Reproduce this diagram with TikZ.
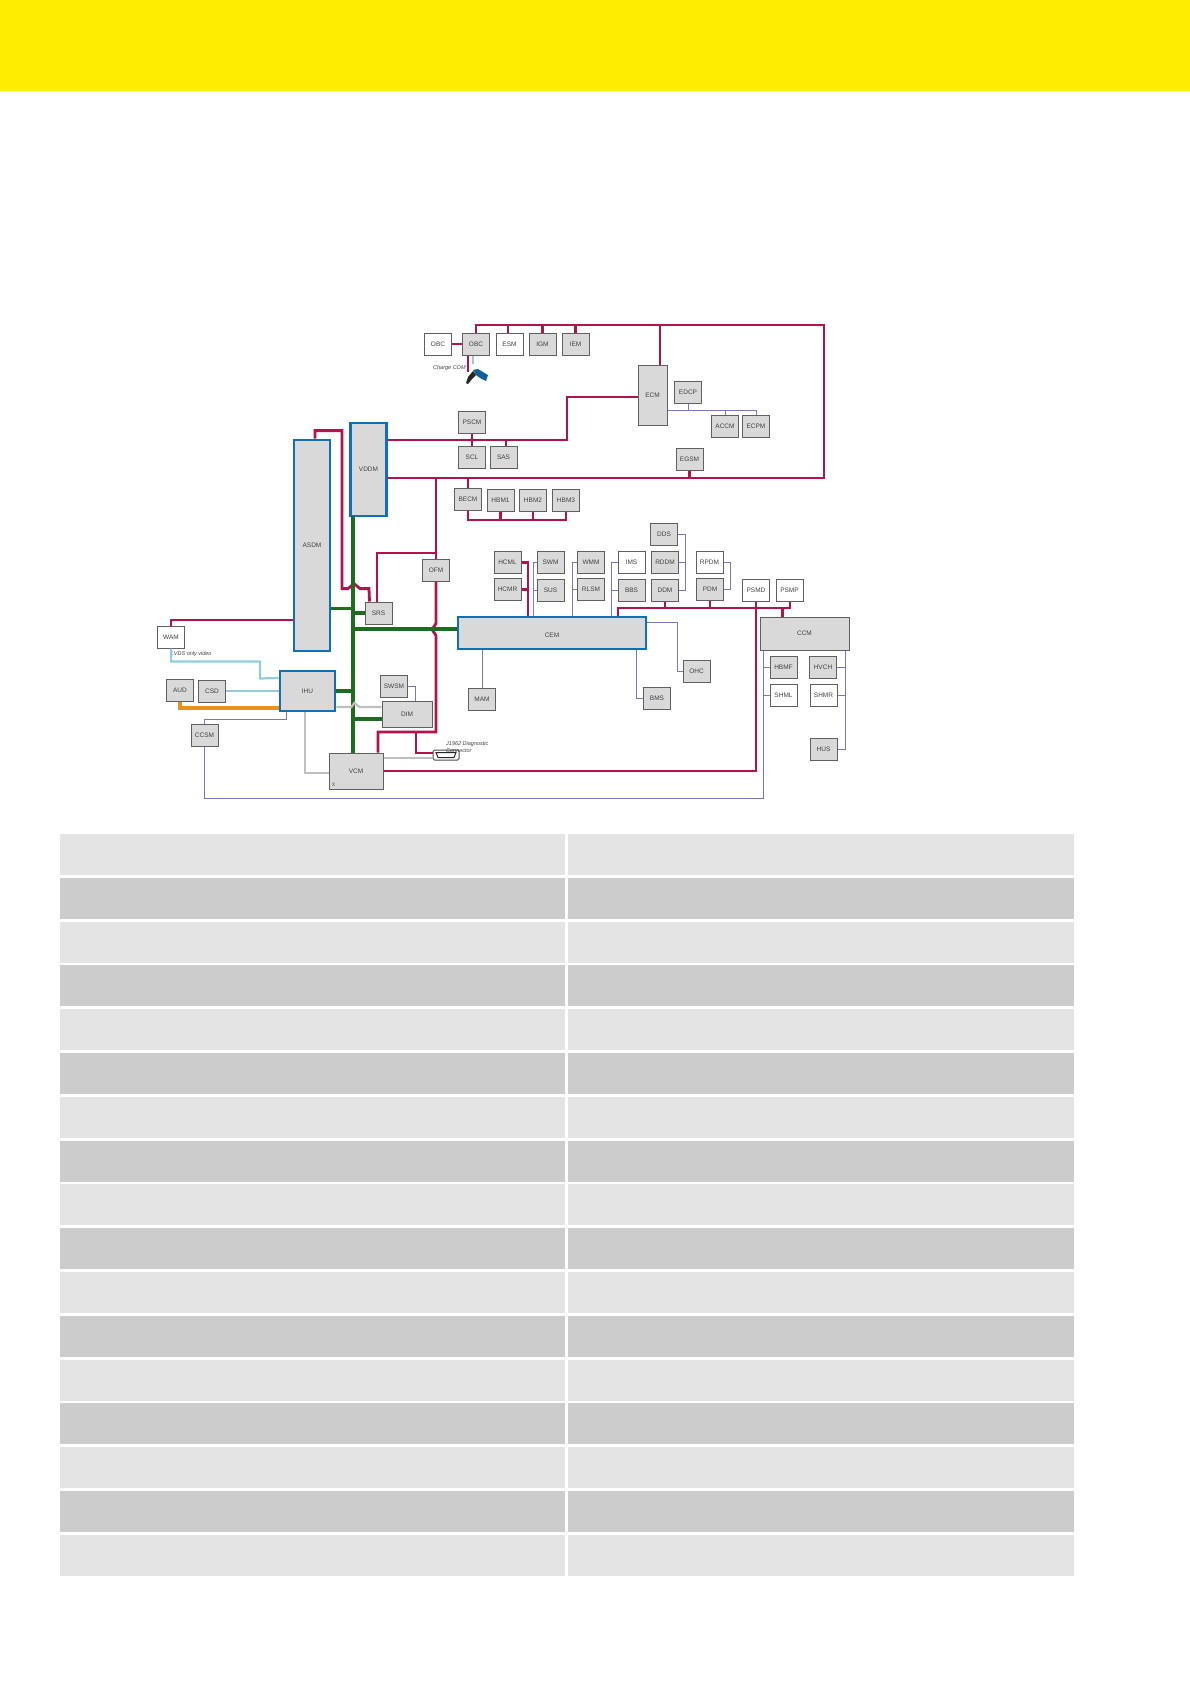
\documentclass[tikz,border=0pt]{standalone}
\usepackage{fontspec}
\setmainfont{Liberation Sans}
\definecolor{bandyellow}{HTML}{FFED00}
\definecolor{rowlight}{HTML}{E4E4E4}
\definecolor{rowdark}{HTML}{CCCCCC}
\definecolor{ecugrey}{HTML}{D9D9D9}
\definecolor{ecuedge}{HTML}{606060}
\definecolor{hubblue}{HTML}{1170B5}
\definecolor{busred}{HTML}{B3124A}
\definecolor{busgreen}{HTML}{1F6B1F}
\definecolor{lin}{HTML}{7B78B5}
\definecolor{lvds}{HTML}{93CDDD}
\definecolor{moston}{HTML}{E8921C}
\definecolor{ethgrey}{HTML}{BFBFBF}
\tikzset{
  ecu/.style={draw=ecuedge, line width=1pt, fill=ecugrey, inner sep=0pt, text=black!75,
    minimum width=27pt, minimum height=22pt, font=\fontsize{6.5}{8}\selectfont},
  ecuw/.style={ecu, fill=white},
  hub/.style={ecu, draw=hubblue, line width=2.8pt},
  note/.style={inner sep=0pt, align=left, anchor=west, text=black!75, font=\fontsize{5.5}{6.2}\itshape\selectfont},
  redbus/.style={draw=busred, line width=2.8pt},
  greenbus/.style={draw=busgreen, line width=3.2pt},
  linbus/.style={draw=lin, line width=1pt},
  lvdsbus/.style={draw=lvds, line width=2.2pt},
  mostbus/.style={draw=moston, line width=3.2pt},
  ethbus/.style={draw=ethgrey, line width=2.2pt},
}
\begin{document}
\begin{tikzpicture}[x=1pt, y=-1pt]
  \useasboundingbox (0,0) rectangle (1190,1684);
  \fill[bandyellow] (0,0) rectangle (1190,91);

  % table rows
  \foreach \r in {0,...,16} {
    \pgfmathsetmacro{\rowy}{834+43.8*\r}
    \pgfmathparse{int(mod(\r,2))}
    \ifnum\pgfmathresult=0 \def\rowc{rowlight}\else \def\rowc{rowdark}\fi
    \fill[\rowc] (60,\rowy) rectangle (565,\rowy+41);
    \fill[\rowc] (568,\rowy) rectangle (1074,\rowy+41);
  }

  % top row
  \node[ecuw] (obcw) at (438,344) {OBC};
  \node[ecu] (obcg) at (476,344) {OBC};
  \node[ecuw] (esm) at (509.5,344) {ESM};
  \node[ecu] (igm) at (542.5,344) {IGM};
  \node[ecu] (iem) at (575.5,344) {IEM};
  \node[note] (chargecom) at (433,368) {Charge COM};

  \node[ecu, minimum width=29pt, minimum height=60pt] (ecm) at (652.5,395) {ECM};
  \node[ecu] (edcp) at (688,392.5) {EDCP};
  \node[ecu] (accm) at (725,426.5) {ACCM};
  \node[ecu] (ecpm) at (756,426.5) {ECPM};
  \node[ecu] (egsm) at (689.5,459.5) {EGSM};

  \node[ecu] (pscm) at (472,422) {PSCM};
  \node[ecu] (scl) at (472,457.5) {SCL};
  \node[ecu] (sas) at (503.5,457.5) {SAS};
  \node[ecu] (becm) at (468,499.5) {BECM};
  \node[ecu] (hbma) at (500.5,500) {HBM1};
  \node[ecu] (hbmb) at (533,500) {HBM2};
  \node[ecu] (hbmc) at (566,500) {HBM3};

  % big ones
  \node[hub, minimum width=36pt, minimum height=211pt] (asdm) at (312,545.5) {ASDM};
  \node[hub, minimum width=36pt, minimum height=93pt] (vddm) at (368.5,469.5) {VDDM};
  \node[hub, minimum width=188pt, minimum height=32pt] (cem) at (552,633) {\smash{\raisebox{-4pt}{CEM}}};
  \node[hub, minimum width=55pt, minimum height=40pt] (ihu) at (307.5,691) {IHU};
  \node[ecu] (srs) at (378.5,613) {SRS};
  \node[ecu] (ofm) at (436,570) {OFM};

  % module groups above CEM
  \node[ecu] (hcml) at (507.5,562.5) {HCML};
  \node[ecu] (hcmr) at (507.5,589.5) {HCMR};
  \node[ecu] (swm) at (550.5,562) {SWM};
  \node[ecu] (sus) at (550.5,590) {SUS};
  \node[ecu] (wmm) at (591,562) {WMM};
  \node[ecu] (rlsm) at (591,589.5) {RLSM};
  \node[ecuw] (ims) at (631.5,562) {IMS};
  \node[ecu] (bbs) at (631.5,590) {BBS};
  \node[ecu] (dds) at (664,534) {DDS};
  \node[ecu] (rddm) at (665,562) {RDDM};
  \node[ecu] (ddm) at (665,590) {DDM};
  \node[ecuw] (rpdm) at (709.5,562.5) {RPDM};
  \node[ecu] (pdm) at (710,589.5) {PDM};
  \node[ecuw] (psmd) at (756,590) {PSMD};
  \node[ecuw] (psmp) at (789.5,590) {PSMP};

  % right side
  \node[ecu, minimum width=89pt, minimum height=33pt] (ccm) at (804.5,633.5) {CCM};
  \node[ecu] (hbmf) at (783.5,667) {HBMF};
  \node[ecu] (hvch) at (823,667) {HVCH};
  \node[ecuw] (shml) at (783.5,695.5) {SHML};
  \node[ecuw] (shmr) at (823.5,695) {SHMR};
  \node[ecu] (hus) at (823.5,749) {HUS};
  \node[ecu] (ohc) at (696.5,671) {OHC};
  \node[ecu] (bms) at (657,698.5) {BMS};
  \node[ecu] (mam) at (482,699.5) {MAM};

  % lower left
  \node[ecuw] (wam) at (171,637) {WAM};
  \node[note] (lvdsnote) at (171,654) {LVDS only video};
  \node[ecu] (aud) at (180,690) {AUD};
  \node[ecu] (csd) at (212,691) {CSD};
  \node[ecu] (ccsm) at (204.5,735.5) {CCSM};
  \node[ecu] (swsm) at (394,686) {SWSM};
  \node[ecu, minimum width=50pt, minimum height=26pt] (dim) at (407,714) {DIM};
  \node[ecu, minimum width=54pt, minimum height=36pt] (vcm) at (356,771) {VCM};
  \node[inner sep=0pt, font=\fontsize{5}{6}\selectfont, text=black!75] (vcmx) at (333.5,785) {X};
  \node[draw=black!70, line width=1pt, fill=white, rounded corners=1.5pt, minimum width=26pt, minimum height=10pt, inner sep=0pt] (jcon) at (446,755) {};
  \node[note] (jnote) at (446,747) {J1962 Diagnostic\\Connector};
  \draw[black!85, line width=1pt] (436,752.5) -- (456,752.5) -- (454,757.5) -- (438,757.5) -- cycle;

  % charge gun
  \fill[hubblue!85!black] (473,370) -- (478,369) -- (488,375) -- (486,381) -- (480,378) -- (476,375) -- cycle;
  \fill[black!85] (466,383) -- (468,377) -- (473,371) -- (476,375) -- (472,379) -- (468,384) -- cycle;

  \coordinate (topr) at (824,325);
  \coordinate (botr) at (824,478);
  \coordinate (kneea) at (567,440);
  \coordinate (kink) at (436,732);
  \coordinate (diagtap) at (416,732);
  \coordinate (srstap) at (377,553);
  \coordinate (wamtap) at (293,620);
  \coordinate (rbus) at (790,608);
  \coordinate (trunk) at (353,516);
  \coordinate (ccsmbus) at (763,798);

  % red lines
  \draw[redbus] (obcg.north) |- (topr) -- (botr) -- (vddm.east |- botr);
  \draw[redbus] (obcw.east) -- (obcg.west);
  \draw[redbus] ([xshift=-8pt]obcg.south) -- ++(0,16);
  \draw[redbus] ([xshift=-1.5pt]esm.north) -- ++(0,-8);
  \draw[redbus] (igm.north) -- ++(0,-8);
  \draw[redbus] (iem.north) -- ++(0,-8);
  \draw[redbus] ([xshift=7.5pt]ecm.north) -- ++(0,-40);
  \draw[redbus] ([yshift=-2pt]ecm.west) -| (kneea) -- (vddm.east |- kneea);
  \draw[redbus] (pscm.south) -- (scl.north);
  \draw[redbus] ([xshift=2.5pt]sas.north) -- ++(0,-6);
  \draw[redbus] (egsm.south) -- (egsm.south |- botr);
  \draw[redbus] (becm.north) -- (becm.north |- botr);
  \draw[redbus] (becm.south) -- ++(0,9) -| (hbmc.south);
  \draw[redbus] (hbma.south) -- ++(0,8);
  \draw[redbus] (hbmb.south) -- ++(0,8);
  \draw[redbus] (ofm.north) -- (ofm.north |- botr);
  \draw[redbus] (ofm.north |- srstap) -- (srstap) -- (srstap |- srs.north);
  \draw[redbus] (ofm.south) -- ++(0,42) -- ++(-4,6) -- ++(4,6) -- (kink) -| ([xshift=22pt]vcm.north);
  \draw[redbus] (diagtap) |- ([yshift=2pt]jcon.west);
  \draw[redbus] ([xshift=3pt]asdm.north) -- ++(0,-8) -- ++(27,0) -- ++(0,158) -- ++(6,0) -- ++(6,-5) -- ++(6,5) -- ++(9,0) -- ([xshift=-9pt]srs.north);
  \draw[redbus] (wam.north) |- (wamtap);
  \draw[redbus] (vcm.east) -| (psmd.south);
  \draw[redbus] ([xshift=66pt]cem.north) |- (rbus) -- (rbus |- psmp.south);
  \draw[redbus] (ddm.south) -- (ddm.south |- rbus);
  \draw[redbus] (pdm.south) -- (pdm.south |- rbus);
  \draw[redbus] ([xshift=-22pt]ccm.north) -- ++(0,-9);
  \draw[redbus] (hcml.east) -| ([xshift=-24pt]cem.north);
  \draw[redbus] (hcmr.east) -- ++(7,0);

  % green lines
  \draw[greenbus] (trunk) -- (trunk |- vcm.north);
  \draw[greenbus] ([yshift=-63pt]asdm.east) -- ++(22,0);
  \draw[greenbus] (srs.west) -- (trunk |- srs.west);
  \draw[greenbus] ([yshift=4pt]cem.west) -- ++(-105,0);
  \draw[greenbus] (ihu.east) -- (trunk |- ihu.east);
  \draw[greenbus] ([yshift=-5pt]dim.west) -- ++(-29,0);

  % video and audio
  \draw[lvdsbus] (wam.south) -- ++(0,13) -- ++(89,0) -- ++(0,17) -- ([yshift=13pt]ihu.west);
  \draw[lvdsbus] (csd.east) -- (ihu.west);
  \draw[mostbus] (aud.south) |- ([yshift=-17pt]ihu.west);

  % grey lines
  \draw[ethbus] ([xshift=-3pt]obcg.south) -- ++(0,8);
  \draw[ethbus] ([yshift=-16pt]ihu.east) -- ++(15,0) -- ++(3,-4) -- ++(5,4) -- ([yshift=7pt]dim.west);
  \draw[ethbus] ([xshift=-2.5pt]ihu.south) |- ([yshift=-2pt]vcm.west);
  \draw[ethbus] ([yshift=13pt]vcm.east) -- ([yshift=-3pt]jcon.west);

  % thin lines
  \draw[linbus] ([yshift=-15pt]ecm.east) -| (ecpm.north);
  \draw[linbus] (edcp.south) -- ++(0,6);
  \draw[linbus] (accm.north) -- ++(0,-5);
  \draw[linbus] (swsm.east) -| ([xshift=8pt]dim.north);
  \draw[linbus] ([xshift=-21.5pt]ihu.south) -- ++(0,7) -| (ccsm.north);
  \draw[linbus] (ccsm.south) |- (ccsmbus) -- (ccsmbus |- ccm.south);
  \draw[linbus] (mam.north) -- (mam.north |- cem.south);
  \draw[linbus] ([yshift=11pt]cem.east) -- ++(30,0) |- (ohc.west);
  \draw[linbus] (bms.west) -| ([xshift=84pt]cem.south);
  \draw[linbus] (swm.west) -| ([xshift=-19pt]cem.north);
  \draw[linbus] (sus.west) -- ++(-4,0);
  \draw[linbus] (wmm.west) -| ([xshift=20pt]cem.north);
  \draw[linbus] (rlsm.west) -- ++(-5,0);
  \draw[linbus] (ims.west) -| ([xshift=59pt]cem.north);
  \draw[linbus] (bbs.west) -- ++(-7,0);
  \draw[linbus] (dds.east) -- ++(7,0) |- (ddm.east);
  \draw[linbus] (rddm.east) -- ++(6,0);
  \draw[linbus] (rpdm.east) -- ++(7,0) |- (pdm.east);
  \draw[linbus] (hbmf.west) -- (ccsmbus |- hbmf.west);
  \draw[linbus] (shml.west) -- (ccsmbus |- shml.west);
  \draw[linbus] ([xshift=40.5pt]ccm.south) |- (hus.east);
  \draw[linbus] (hvch.east) -- ++(8.5,0);
  \draw[linbus] (shmr.east) -- ++(8,0);
\end{tikzpicture}
\end{document}
